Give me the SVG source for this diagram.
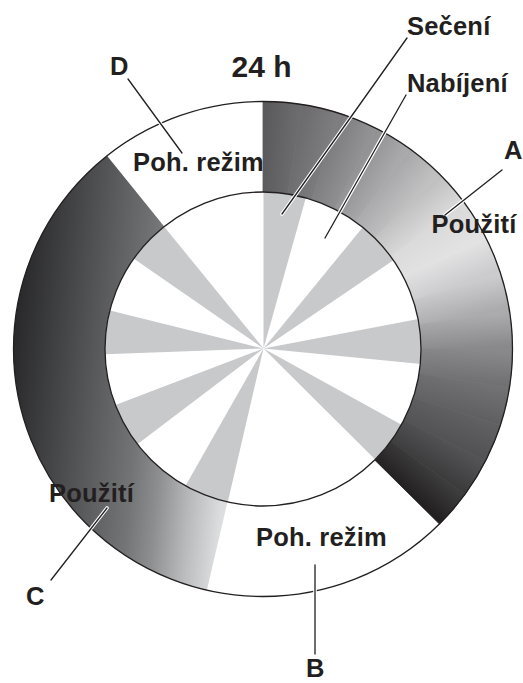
<svg xmlns="http://www.w3.org/2000/svg" width="523" height="683" viewBox="0 0 523 683">
<style>
.t{font-family:"Liberation Sans",Arial,sans-serif;font-weight:bold;font-size:25.5px;letter-spacing:.2px;fill:#231f20}
.big{font-size:30px;letter-spacing:0}
.outline{fill:none;stroke:#231f20;stroke-width:1.3}
.wedge{fill:#c8c9cb}
.halo{fill:none;stroke:#fff;stroke-width:3.6;stroke-linecap:round}
.lead{fill:none;stroke:#231f20;stroke-width:1.3;stroke-linecap:round}
.seg{stroke-width:.8}
</style>
<defs>
<clipPath id="dialClip"><ellipse cx="263" cy="349" rx="158" ry="157"/></clipPath>
<linearGradient id="gC" gradientUnits="userSpaceOnUse" x1="10" y1="330" x2="280" y2="357">
<stop offset="0" stop-color="#262628"/><stop offset=".3" stop-color="#545557"/><stop offset=".5" stop-color="#737476"/><stop offset=".6" stop-color="#8d8e90"/><stop offset=".72" stop-color="#b8b9bb"/><stop offset=".84" stop-color="#dcdddf"/><stop offset="1" stop-color="#e6e6e6"/>
</linearGradient>
<linearGradient id="g0" gradientUnits="userSpaceOnUse" x1="263" y1="146.75" x2="294.88" y2="149.24"><stop offset="0" stop-color="#5a5a5c"/><stop offset="1" stop-color="#6c6c6e"/></linearGradient>
<linearGradient id="g1" gradientUnits="userSpaceOnUse" x1="294.88" y1="149.24" x2="325.97" y2="156.65"><stop offset="0" stop-color="#6c6c6e"/><stop offset="1" stop-color="#7d7d7f"/></linearGradient>
<linearGradient id="g2" gradientUnits="userSpaceOnUse" x1="325.97" y1="156.65" x2="355.5" y2="168.79"><stop offset="0" stop-color="#7d7d7f"/><stop offset="1" stop-color="#929294"/></linearGradient>
<linearGradient id="g3" gradientUnits="userSpaceOnUse" x1="355.5" y1="168.79" x2="382.76" y2="185.38"><stop offset="0" stop-color="#929294"/><stop offset="1" stop-color="#a9a9ab"/></linearGradient>
<linearGradient id="g4" gradientUnits="userSpaceOnUse" x1="382.76" y1="185.38" x2="407.07" y2="205.99"><stop offset="0" stop-color="#a9a9ab"/><stop offset="1" stop-color="#c0c0c1"/></linearGradient>
<linearGradient id="g5" gradientUnits="userSpaceOnUse" x1="407.07" y1="205.99" x2="427.84" y2="230.12"><stop offset="0" stop-color="#c0c0c1"/><stop offset="1" stop-color="#dadadb"/></linearGradient>
<linearGradient id="g6" gradientUnits="userSpaceOnUse" x1="427.84" y1="230.12" x2="444.55" y2="257.18"><stop offset="0" stop-color="#dadadb"/><stop offset="1" stop-color="#e2e2e3"/></linearGradient>
<linearGradient id="g7" gradientUnits="userSpaceOnUse" x1="444.55" y1="257.18" x2="456.78" y2="286.5"><stop offset="0" stop-color="#e2e2e3"/><stop offset="1" stop-color="#cbcbcd"/></linearGradient>
<linearGradient id="g8" gradientUnits="userSpaceOnUse" x1="456.78" y1="286.5" x2="464.25" y2="317.36"><stop offset="0" stop-color="#cbcbcd"/><stop offset="1" stop-color="#ababad"/></linearGradient>
<linearGradient id="g9" gradientUnits="userSpaceOnUse" x1="464.25" y1="317.36" x2="466.75" y2="349"><stop offset="0" stop-color="#ababad"/><stop offset="1" stop-color="#89898b"/></linearGradient>
<linearGradient id="g10" gradientUnits="userSpaceOnUse" x1="466.75" y1="349" x2="464.25" y2="380.64"><stop offset="0" stop-color="#89898b"/><stop offset="1" stop-color="#717173"/></linearGradient>
<linearGradient id="g11" gradientUnits="userSpaceOnUse" x1="464.25" y1="380.64" x2="456.78" y2="411.5"><stop offset="0" stop-color="#717173"/><stop offset="1" stop-color="#606062"/></linearGradient>
<linearGradient id="g12" gradientUnits="userSpaceOnUse" x1="456.78" y1="411.5" x2="444.55" y2="440.82"><stop offset="0" stop-color="#606062"/><stop offset="1" stop-color="#525254"/></linearGradient>
<linearGradient id="g13" gradientUnits="userSpaceOnUse" x1="444.55" y1="440.82" x2="427.84" y2="467.88"><stop offset="0" stop-color="#525254"/><stop offset="1" stop-color="#3c3c3d"/></linearGradient>
<linearGradient id="g14" gradientUnits="userSpaceOnUse" x1="427.84" y1="467.88" x2="407.07" y2="492.01"><stop offset="0" stop-color="#3c3c3d"/><stop offset="1" stop-color="#231f20"/></linearGradient>
</defs>

<g id="ring-B"><path d="M439.42,524.01 A249.5,247.5 0 0 1 206.87,590.16 L227.46,501.98 A158,157 0 0 0 374.72,460.02 Z" fill="#fff"/></g>
<g id="ring-D"><path d="M107,155.84 A249.5,247.5 0 0 1 263,101.5 L263,192 A158,157 0 0 0 164.21,226.47 Z" fill="#fff"/></g>
<g id="ring-C"><path d="M206.87,590.16 A249.5,247.5 0 0 1 107,155.84 L164.21,226.47 A158,157 0 0 0 227.46,501.98 Z" fill="url(#gC)"/></g>
<g id="ring-A" class="seg">
<path fill="url(#g0)" stroke="url(#g0)" d="M263,101.5 A249.5,247.5 0 0 1 302.03,104.55 L287.72,193.93 A158,157 0 0 0 263,192 Z"/>
<path fill="url(#g1)" stroke="url(#g1)" d="M302.03,104.55 A249.5,247.5 0 0 1 340.1,113.61 L311.83,199.68 A158,157 0 0 0 287.72,193.93 Z"/>
<path fill="url(#g2)" stroke="url(#g2)" d="M340.1,113.61 A249.5,247.5 0 0 1 376.27,128.47 L334.73,209.11 A158,157 0 0 0 311.83,199.68 Z"/>
<path fill="url(#g3)" stroke="url(#g3)" d="M376.27,128.47 A249.5,247.5 0 0 1 409.65,148.77 L355.87,221.98 A158,157 0 0 0 334.73,209.11 Z"/>
<path fill="url(#g4)" stroke="url(#g4)" d="M409.65,148.77 A249.5,247.5 0 0 1 439.42,173.99 L374.72,237.98 A158,157 0 0 0 355.87,221.98 Z"/>
<path fill="url(#g5)" stroke="url(#g5)" d="M439.42,173.99 A249.5,247.5 0 0 1 464.85,203.52 L390.83,256.72 A158,157 0 0 0 374.72,237.98 Z"/>
<path fill="url(#g6)" stroke="url(#g6)" d="M464.85,203.52 A249.5,247.5 0 0 1 485.31,236.64 L403.78,277.72 A158,157 0 0 0 390.83,256.72 Z"/>
<path fill="url(#g7)" stroke="url(#g7)" d="M485.31,236.64 A249.5,247.5 0 0 1 500.29,272.52 L413.27,300.48 A158,157 0 0 0 403.78,277.72 Z"/>
<path fill="url(#g8)" stroke="url(#g8)" d="M500.29,272.52 A249.5,247.5 0 0 1 509.43,310.28 L419.06,324.44 A158,157 0 0 0 413.27,300.48 Z"/>
<path fill="url(#g9)" stroke="url(#g9)" d="M509.43,310.28 A249.5,247.5 0 0 1 512.5,349 L421,349 A158,157 0 0 0 419.06,324.44 Z"/>
<path fill="url(#g10)" stroke="url(#g10)" d="M512.5,349 A249.5,247.5 0 0 1 509.43,387.72 L419.06,373.56 A158,157 0 0 0 421,349 Z"/>
<path fill="url(#g11)" stroke="url(#g11)" d="M509.43,387.72 A249.5,247.5 0 0 1 500.29,425.48 L413.27,397.52 A158,157 0 0 0 419.06,373.56 Z"/>
<path fill="url(#g12)" stroke="url(#g12)" d="M500.29,425.48 A249.5,247.5 0 0 1 485.31,461.36 L403.78,420.28 A158,157 0 0 0 413.27,397.52 Z"/>
<path fill="url(#g13)" stroke="url(#g13)" d="M485.31,461.36 A249.5,247.5 0 0 1 464.85,494.48 L390.83,441.28 A158,157 0 0 0 403.78,420.28 Z"/>
<path fill="url(#g14)" stroke="url(#g14)" d="M464.85,494.48 A249.5,247.5 0 0 1 439.42,524.01 L374.72,460.02 A158,157 0 0 0 390.83,441.28 Z"/>
</g>

<g id="dial">
<ellipse cx="263" cy="349" rx="158" ry="157" fill="#fff"/>
<g clip-path="url(#dialClip)">
<path class="wedge" d="M263.5,348.5 L263.5,148.5 L317.6,156 Z"/>
<path class="wedge" d="M263.5,348.5 L390.2,193.7 L428.9,236.1 Z"/>
<path class="wedge" d="M263.5,348.5 L460,311 L462.5,368 Z"/>
<path class="wedge" d="M263.5,348.5 L438.6,445.2 L405.4,489.4 Z"/>
<path class="wedge" d="M263.5,348.5 L218.2,543.3 L164.7,522.4 Z"/>
<path class="wedge" d="M263.5,348.5 L104.2,469.4 L76.7,419.8 Z"/>
<path class="wedge" d="M263.5,348.5 L63.6,355.8 L69.4,300.5 Z"/>
<path class="wedge" d="M263.5,348.5 L99.1,234.6 L137.1,193.5 Z"/>
</g>
<ellipse class="outline" cx="263" cy="349" rx="158" ry="157"/>
</g>

<g id="ring-outline"><ellipse class="outline" cx="263" cy="349" rx="249.5" ry="247.5"/></g>

<g id="connectors">
<path class="halo" d="M128,79 L182,153 M407,38 L282,214 M406,95 L325,238 M502,170 L445,215 M51,580 L107,508 M315,565 L315,654"/>
<path class="lead" d="M128,79 L182,153 M407,38 L282,214 M406,95 L325,238 M502,170 L445,215 M51,580 L107,508 M315,565 L315,654"/>
</g>

<g id="label-24h"><text class="t big" x="231.5" y="77">24 h</text></g>
<g id="label-secen"><text class="t" x="407" y="35">Sečení</text></g>
<g id="label-nabijeni"><text class="t" x="407" y="92">Nabíjení</text></g>
<g id="label-A"><text class="t" x="504" y="159">A</text><text class="t" x="431.5" y="233">Použití</text></g>
<g id="label-D"><text class="t" x="110" y="75">D</text><text class="t" x="133" y="171">Poh. režim</text></g>
<g id="label-C"><text class="t" x="49" y="502">Použití</text><text class="t" x="26" y="605">C</text></g>
<g id="label-B"><text class="t" x="256" y="546">Poh. režim</text><text class="t" x="306" y="677">B</text></g>
</svg>
